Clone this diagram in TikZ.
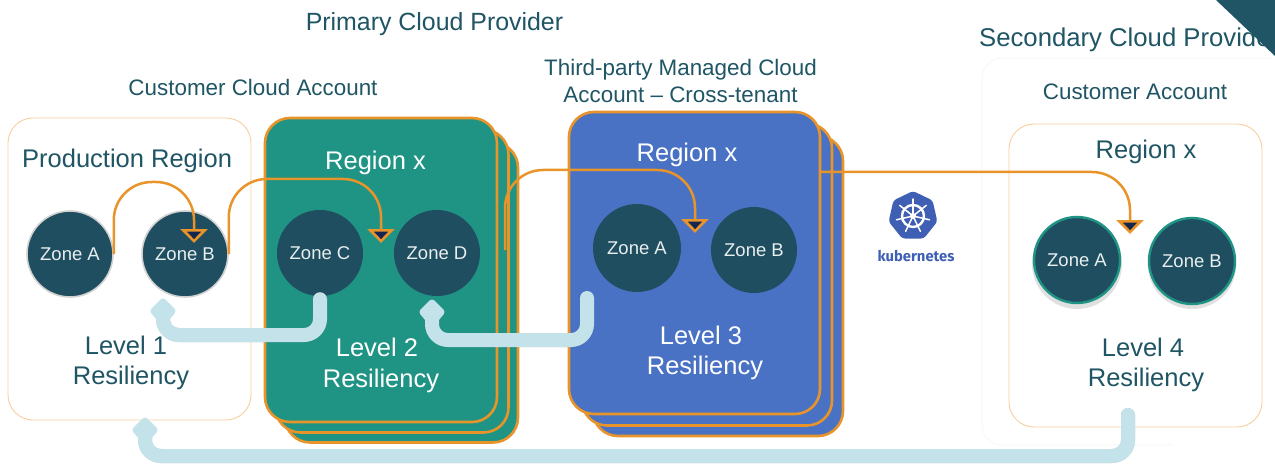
\documentclass[tikz,border=0pt]{standalone}
\usepackage{fontspec}
\setmainfont{Liberation Sans}
\newfontfamily\kubefont{Fira Sans}
\usetikzlibrary{arrows.meta,shapes.geometric,calc}
\definecolor{ink}{HTML}{1F5564}
\definecolor{zonefill}{HTML}{1F4E60}
\definecolor{tealcard}{HTML}{1F9484}
\definecolor{bluecard}{HTML}{4A72C4}
\definecolor{amber}{HTML}{E8942A}
\definecolor{paleamber}{HTML}{F8CFA0}
\definecolor{navytip}{HTML}{14264F}
\definecolor{icewater}{HTML}{C3E2EA}
\definecolor{kubeblue}{HTML}{3F5FB5}
\tikzset{
  x=1pt,y=-1pt,
  card/.style={draw=amber,line width=2.6pt,rounded corners=25pt,minimum width=#1,inner sep=0pt},
  zonebox/.style={draw=paleamber,line width=0.9pt,fill=white,rounded corners=25pt,inner sep=0pt},
  zone/.style={circle,fill=zonefill,text=white!90!ink,inner sep=0pt,minimum size=86pt,font=\fontsize{18.5}{22}\selectfont},
  zonegrey/.style={zone,draw=white!82!black,line width=1.6pt},
  zoneteal/.style={zone,draw=tealcard,line width=2.4pt},
  head/.style={text=ink,align=center,font=\fontsize{22.4}{27}\selectfont},
  big/.style={text=#1,align=center,font=\fontsize{25.5}{30.5}\selectfont},
  hop/.style={draw=amber,line width=2.5pt,rounded corners=38pt,
    -{Triangle[length=14pt,width=27pt,line width=2.6pt,fill=navytip,color=amber]}},
  failshadow/.style={draw=black!55,line width=14pt,opacity=.4,rounded corners=16pt,line cap=round},
  failover/.style={draw=icewater,line width=14pt,rounded corners=16pt,line cap=round},
  failhead/.style={fill=icewater,draw=icewater,line width=7pt,line join=round},
}
\newcommand{\failpath}[2]{%
  \begin{scope}[yshift=-3pt]\draw[failshadow] #1;\end{scope}
  \draw[failover] #1;
  \fill[failhead] #2;}
\begin{document}
\begin{tikzpicture}
\useasboundingbox (0,0) rectangle (1275,476);
\fill[white] (0,0) rectangle (1275,476);
% faint outer account outline
\draw[black!4,line width=0.6pt,rounded corners=20pt] (1272,58) -- (982,58) -- (982,445) -- (1172,445);
% headings
\node[text=ink,font=\fontsize{24.9}{29}\selectfont] (primary) at (434.5,24) {Primary Cloud Provider};
\node[text=ink,font=\fontsize{25.7}{31}\selectfont,anchor=west,inner sep=0pt] (secondary) at (979,40) {Secondary Cloud Provider};
% corner mark
\fill[ink] (1216,0) -- (1275,0) -- (1275,56) -- cycle;
\node[head] (custcloud) at (253,87) {Customer Cloud Account};
\node[head] (thirdparty) at (680.5,80.5) {Third-party Managed Cloud\\Account – Cross-tenant};
\node[head] (custacct) at (1135,92) {Customer Account};
% boxes
\node[zonebox,minimum width=243pt,minimum height=302pt] (boxone) at (129.5,269) {};
\node[zonebox,minimum width=253pt,minimum height=303pt] (boxfour) at (1135.5,275.5) {};
% teal stack
\node[card=233pt,minimum height=300pt,fill=tealcard] (tealc) at (401.5,292.5) {};
\node[card=233pt,minimum height=303pt,fill=tealcard] (tealb) at (392,281) {};
\node[card=232pt,minimum height=304pt,fill=tealcard] (teala) at (381,270) {};
% blue stack
\node[card=250pt,minimum height=300pt,fill=bluecard] (bluec) at (718,286) {};
\node[card=250pt,minimum height=302pt,fill=bluecard] (blueb) at (707,274.5) {};
\node[card=251pt,minimum height=302pt,fill=bluecard] (bluea) at (694.5,263) {};
% text inside
\node[big=ink,anchor=west,inner sep=0pt] (prodregion) at (22,161) {Production Region};
\node[big=white] (regionteal) at (375.5,163) {Region x};
\node[big=white] (regionblue) at (687,154.5) {Region x};
\node[big=ink] (regionfour) at (1146,152) {Region x};
\node[big=ink] (levelone) at (131,363) {Level 1\hspace*{10pt}\\Resiliency};
\node[big=white] (leveltwo) at (381,365.5) {Level 2\hspace*{8pt}\\Resiliency};
\node[big=white] (levelthree) at (705,353) {Level 3\hspace*{8pt}\\Resiliency};
\node[big=ink] (levelfour) at (1146,365) {Level 4\hspace*{6pt}\\Resiliency};
% zones
\node[zonegrey] (za) at (70,254) {Zone A};
\node[zonegrey] (zb) at (185,254) {Zone B};
\node[zone] (zc) at (320,253) {Zone C};
\node[zone] (zd) at (437,253) {Zone D};
\node[zone,minimum size=88pt] (ze) at (637,248) {Zone A};
\node[zone] (zf) at (754,250) {Zone B};
\fill[black,opacity=.12] (1077,264) circle (45pt) (1192,265) circle (44pt);
\node[zoneteal] (zg) at (1077,260) {Zone A};
\node[zoneteal] (zh) at (1192,261) {Zone B};
% kubernetes mark
\node[regular polygon,regular polygon sides=7,minimum size=50pt,fill=kubeblue,rounded corners=3pt,inner sep=0pt] (kube) at (913,216) {};
\draw[white,line width=2.4pt] (kube.center) circle (11pt);
\fill[white] (kube.center) circle (3pt);
\foreach \a in {90,141.4,192.9,244.3,295.7,347.1,38.6}
  \draw[white,line width=1.5pt,line cap=round] (kube.center) -- ++(\a:17pt);
\node[text=kubeblue,font=\kubefont\bfseries\fontsize{14.8}{18}\selectfont] (kubelabel) at (916,256) {kubernetes};
% orange hops
\coordinate (abup) at (194,182);
\coordinate (abtip) at (194,243);
\coordinate (cdup) at (381,179);
\coordinate (cdtip) at (381,243);
\coordinate (blstart) at (505,250);
\coordinate (blup) at (695,170);
\coordinate (bltip) at (695,233);
\coordinate (frstart) at (820,172);
\coordinate (frup) at (1130,172);
\coordinate (frtip) at (1130,234);
\draw[hop] (za.east) |- (abup) -- (abtip);
\draw[hop] (zb.east) |- (cdup) -- (cdtip);
\draw[hop] (blstart) |- (blup) -- (bltip);
\draw[hop] (frstart) -- (frup) -- (frtip);
% failover arrows
\coordinate (cbelbow) at (163,335);
\coordinate (cbtip) at (163,311);
\coordinate (bstart) at (587,298);
\coordinate (dbelbow) at (432,340);
\coordinate (dtip) at (432,312);
\coordinate (lowstart) at (1128,415);
\coordinate (lowelbow) at (145,456);
\coordinate (lowtip) at (145,430);
\failpath{(zc.south) ++(0,3) |- (cbelbow) -- (cbtip)}{(cbtip) ++(-9,0) -- ++(9,-9) -- ++(9,9) -- ++(-5,6) -- ++(-8,0) -- cycle}
\failpath{(bstart) |- (dbelbow) -- (dtip)}{(dtip) ++(-9,0) -- ++(9,-9) -- ++(9,9) -- ++(-5,6) -- ++(-8,0) -- cycle}
\failpath{(lowstart) |- (lowelbow) -- (lowtip)}{(lowtip) ++(-9,0) -- ++(9,-9) -- ++(9,9) -- ++(-5,6) -- ++(-8,0) -- cycle}
\end{tikzpicture}
\end{document}
